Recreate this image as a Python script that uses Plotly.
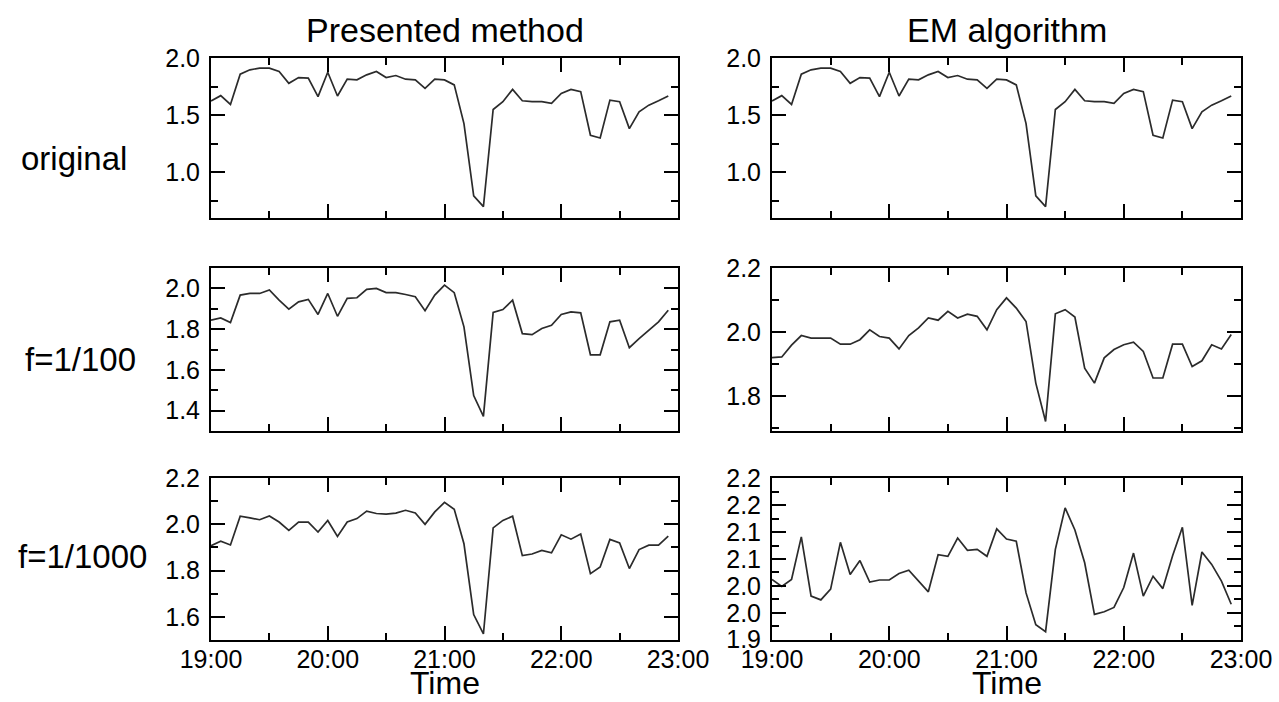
import plotly.graph_objects as go

# ---- data (5-minute samples, 19:00 .. 22:55) ----
n_points = 48
time_hours = [19 + i / 12 for i in range(n_points)]

original = [1.624, 1.671, 1.594, 1.859, 1.897, 1.912, 1.912, 1.882, 1.779, 1.829,
            1.824, 1.662, 1.876, 1.668, 1.815, 1.809, 1.853, 1.882, 1.829, 1.847,
            1.815, 1.809, 1.735, 1.815, 1.809, 1.765, 1.426, 0.794, 0.700, 1.550,
            1.618, 1.726, 1.626, 1.618, 1.618, 1.603, 1.691, 1.726, 1.706, 1.324,
            1.300, 1.632, 1.618, 1.382, 1.529, 1.588, 1.626, 1.668]

presented_100 = [1.844, 1.855, 1.832, 1.967, 1.975, 1.975, 1.992, 1.942, 1.898, 1.934,
                 1.946, 1.872, 1.975, 1.863, 1.951, 1.954, 1.995, 2.000, 1.979, 1.979,
                 1.970, 1.959, 1.890, 1.967, 2.016, 1.979, 1.811, 1.474, 1.372, 1.882,
                 1.896, 1.942, 1.778, 1.773, 1.803, 1.819, 1.872, 1.885, 1.880, 1.674,
                 1.674, 1.836, 1.844, 1.709, 1.753, 1.794, 1.836, 1.893]

em_100 = [1.920, 1.922, 1.959, 1.989, 1.981, 1.981, 1.981, 1.962, 1.962, 1.976,
          2.007, 1.986, 1.981, 1.947, 1.989, 2.013, 2.044, 2.037, 2.065, 2.044,
          2.056, 2.049, 2.007, 2.070, 2.107, 2.075, 2.033, 1.840, 1.720, 2.057,
          2.070, 2.047, 1.887, 1.840, 1.919, 1.945, 1.960, 1.968, 1.939, 1.856,
          1.856, 1.962, 1.962, 1.892, 1.910, 1.960, 1.947, 1.992]

presented_1000 = [1.908, 1.927, 1.911, 2.035, 2.028, 2.020, 2.036, 2.010, 1.974, 2.010,
                  2.010, 1.967, 2.017, 1.948, 2.010, 2.025, 2.057, 2.047, 2.044, 2.049,
                  2.061, 2.049, 2.000, 2.054, 2.095, 2.065, 1.916, 1.610, 1.526, 1.985,
                  2.017, 2.035, 1.865, 1.872, 1.887, 1.877, 1.955, 1.936, 1.958, 1.787,
                  1.816, 1.935, 1.920, 1.809, 1.891, 1.910, 1.910, 1.949]

em_1000 = [2.012, 1.999, 2.012, 2.091, 1.981, 1.974, 1.994, 2.081, 2.021, 2.047,
           2.007, 2.011, 2.011, 2.023, 2.029, 2.009, 1.989, 2.058, 2.055, 2.089,
           2.066, 2.068, 2.055, 2.106, 2.087, 2.083, 1.987, 1.928, 1.915, 2.068,
           2.145, 2.104, 2.043, 1.947, 1.952, 1.960, 1.997, 2.061, 1.981, 2.018,
           1.995, 2.056, 2.109, 1.964, 2.063, 2.040, 2.009, 1.966]

x_tick_vals = [19, 20, 21, 22, 23]
x_tick_labels = ["19:00", "20:00", "21:00", "22:00", "23:00"]
column_titles = ["Presented method", "EM algorithm"]
row_labels = ["original", "f=1/100", "f=1/1000"]
em1000_tick_vals = [1.9, 1.95, 2.0, 2.05, 2.1, 2.15, 2.2]
em1000_tick_labels = ["1.9", "2.0", "2.0", "2.1", "2.1", "2.2", "2.2"]

# ---- layout geometry (pixels) ----
W, H = 1279, 702
col_px = [(211, 678), (772, 1241)]
row_px = [(58, 218), (268, 431), (478, 640)]

FONT = "Liberation Sans, Arial, sans-serif"
LINE_COLOR = "#2b2b2b"

panels = [
    # (row, col, data, yrange, y-tick settings, minor dtick)
    (0, 0, original, [0.6, 2.0005], dict(dtick=0.5, tick0=0), 0.25),
    (0, 1, original, [0.6, 2.0005], dict(dtick=0.5, tick0=0), 0.25),
    (1, 0, presented_100, [1.3, 2.1], dict(dtick=0.2, tick0=0), 0.1),
    (1, 1, em_100, [1.69, 2.2005], dict(dtick=0.2, tick0=0), 0.1),
    (2, 0, presented_1000, [1.5, 2.2005], dict(dtick=0.2, tick0=0), 0.1),
    (2, 1, em_1000, [1.8995, 2.2005],
     dict(tickmode="array", tickvals=em1000_tick_vals, ticktext=em1000_tick_labels), 0.025),
]

fig = go.Figure()
layout = dict(
    width=W, height=H,
    margin=dict(l=0, r=0, t=0, b=0, autoexpand=False),
    paper_bgcolor="white", plot_bgcolor="white",
    showlegend=False,
    font=dict(family=FONT, color="black", size=25),
)

for k, (r, c, data, yr, ytick, ydminor) in enumerate(panels):
    idx = "" if k == 0 else str(k + 1)
    xname, yname = "xaxis" + idx, "yaxis" + idx
    fig.add_trace(go.Scatter(
        x=time_hours, y=data, mode="lines",
        line=dict(color=LINE_COLOR, width=1.7),
        xaxis="x" + idx, yaxis="y" + idx, hoverinfo="skip",
    ))
    x0, x1 = col_px[c]
    t, b = row_px[r]
    layout[xname] = dict(
        domain=[x0 / W, x1 / W], anchor="y" + idx, range=[19, 23],
        automargin=False,
        tickmode="array", tickvals=x_tick_vals,
        ticktext=x_tick_labels,
        showticklabels=(r == 2),
        ticks="inside", ticklen=14, tickwidth=2, tickcolor="black",
        minor=dict(ticks="inside", ticklen=7, tickwidth=2, tickcolor="black",
                   dtick=0.5, tick0=19, showgrid=False),
        showline=True, linecolor="black", linewidth=2, mirror="allticks",
        showgrid=False, zeroline=False,
        ticklabelstandoff=-4,
        tickfont=dict(size=25, family=FONT, color="black"),
    )
    ydict = dict(
        domain=[1 - b / H, 1 - t / H], anchor="x" + idx, range=yr,
        automargin=False,
        ticks="inside", ticklen=14, tickwidth=2, tickcolor="black",
        minor=dict(ticks="inside", ticklen=7, tickwidth=2, tickcolor="black",
                   dtick=ydminor, tick0=0, showgrid=False),
        showline=True, linecolor="black", linewidth=2, mirror="allticks",
        showgrid=False, zeroline=False, tickformat=".1f",
        ticklabelstandoff=4,
        tickfont=dict(size=25, family=FONT, color="black"),
    )
    ydict.update(ytick)
    layout[yname] = ydict

fig.update_layout(**layout)

annotations = []
for c, title in enumerate(column_titles):
    x0, x1 = col_px[c]
    annotations.append(dict(
        text=title, x=(x0 + x1) / 2 / W, y=1 - 30 / H, xref="paper", yref="paper",
        xanchor="center", yanchor="middle", showarrow=False,
        font=dict(size=34, family=FONT, color="black")))
    annotations.append(dict(
        text="Time", x=(x0 + x1) / 2 / W, y=0, xref="paper", yref="paper",
        xanchor="center", yanchor="bottom", showarrow=False, borderpad=0,
        font=dict(size=32, family=FONT, color="black")))

row_label_pos = [(74, 159), (81, 359), (82, 556)]
for lbl, (px, py) in zip(row_labels, row_label_pos):
    annotations.append(dict(
        text=lbl, x=px / W, y=1 - py / H, xref="paper", yref="paper",
        xanchor="center", yanchor="middle", showarrow=False,
        font=dict(size=33, family=FONT, color="black")))

fig.update_layout(annotations=annotations)
fig.write_html("out.html")
